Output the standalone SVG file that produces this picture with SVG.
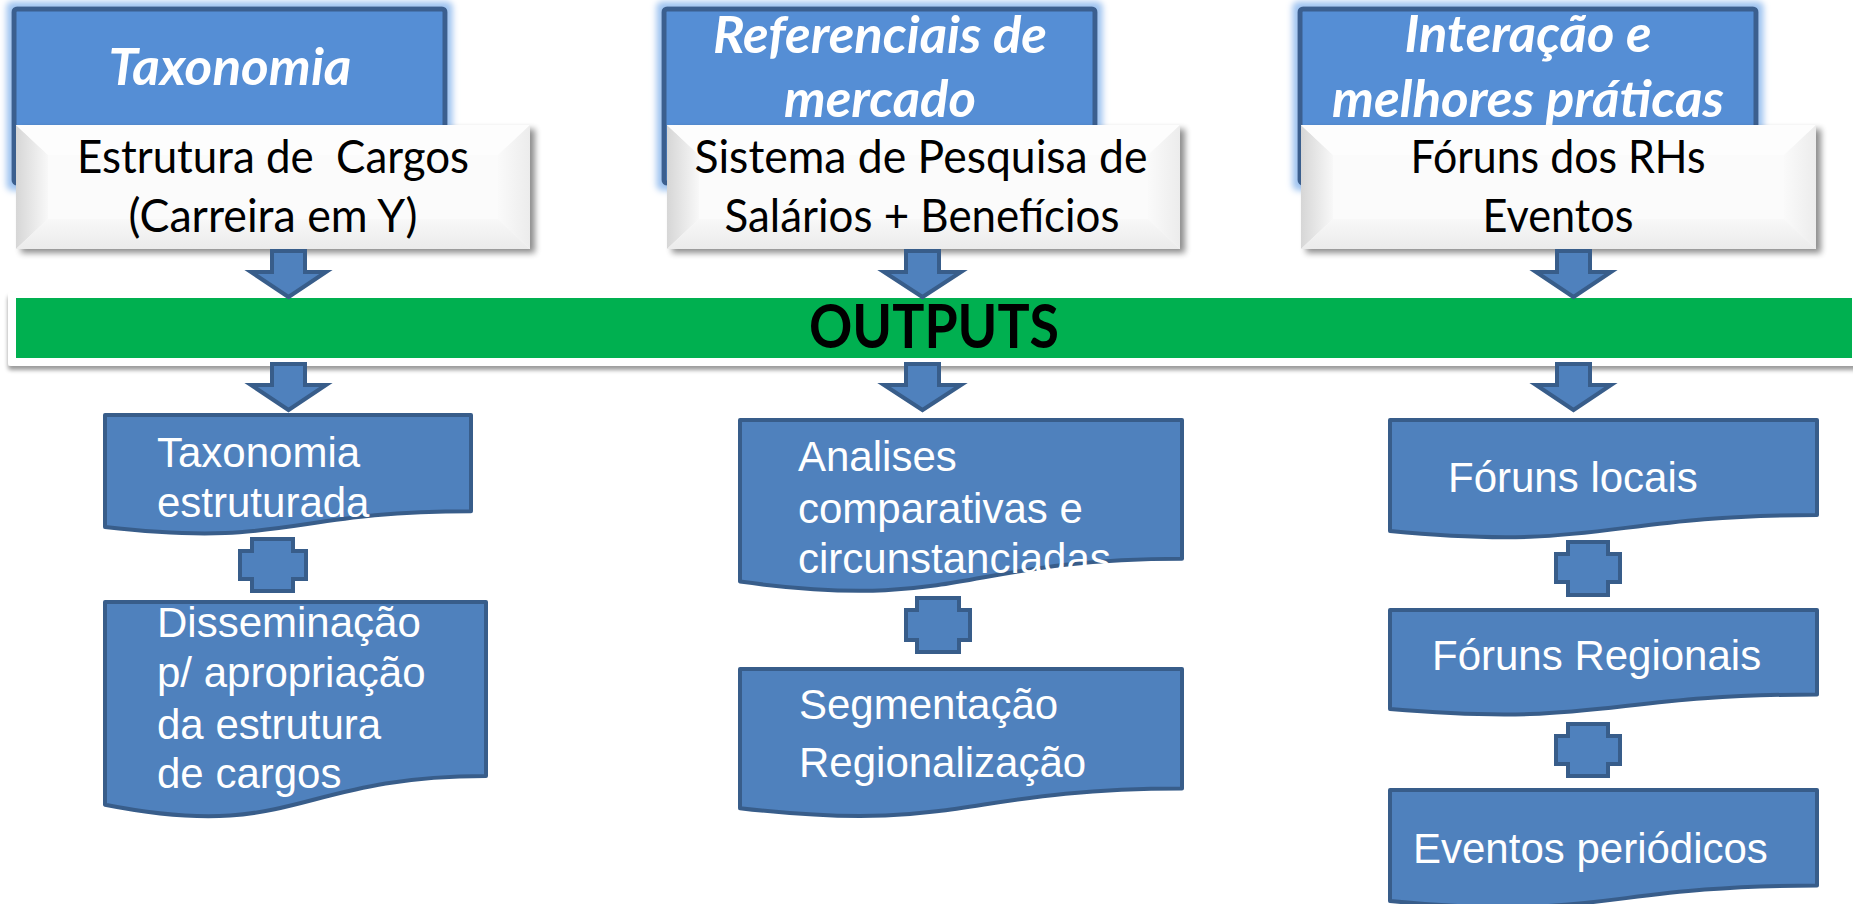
<svg xmlns="http://www.w3.org/2000/svg" width="1853" height="904" viewBox="0 0 1853 904">
<defs>
<style>
.hdr{fill:#558ED5;stroke:#3A5F8F;stroke-width:5}
.hdrt{font-family:Lato,"Open Sans",sans-serif;font-weight:bold;font-style:italic;font-size:52px;fill:#fff;text-anchor:middle}
.wt{font-family:Lato,"Open Sans",sans-serif;font-size:47px;fill:#000;text-anchor:middle}
.doc{fill:#4F81BD;stroke:#385D8A;stroke-width:4;stroke-linejoin:round}
.dt{font-family:"Liberation Sans",Arial,sans-serif;font-size:42px;fill:#fff}
.arr{fill:#4F81BD;stroke:#385D8A;stroke-width:4;stroke-linejoin:miter}
.out{font-family:Lato,"Open Sans",sans-serif;font-weight:bold;font-size:62px;fill:#000;text-anchor:middle}
</style>
<filter id="glow" x="-10%" y="-10%" width="120%" height="120%">
<feMorphology in="SourceAlpha" operator="dilate" radius="5" result="d"/>
<feGaussianBlur in="d" stdDeviation="3" result="b"/>
<feFlood flood-color="#9EC3F0"/>
<feComposite in2="b" operator="in" result="g"/>
<feMerge><feMergeNode in="g"/><feMergeNode in="SourceGraphic"/></feMerge>
</filter>
<filter id="shadow" x="-5%" y="-10%" width="115%" height="130%">
<feGaussianBlur in="SourceAlpha" stdDeviation="3"/>
<feOffset dx="5" dy="4" result="o"/>
<feComponentTransfer><feFuncA type="linear" slope="0.45"/></feComponentTransfer>
<feMerge><feMergeNode/><feMergeNode in="SourceGraphic"/></feMerge>
</filter>
<filter id="shadow2" x="-2%" y="-20%" width="104%" height="160%">
<feGaussianBlur in="SourceAlpha" stdDeviation="2"/>
<feOffset dx="0" dy="4"/>
<feComponentTransfer><feFuncA type="linear" slope="0.4"/></feComponentTransfer>
<feMerge><feMergeNode/><feMergeNode in="SourceGraphic"/></feMerge>
</filter>
<linearGradient id="lb" x1="0" y1="0" x2="1" y2="0">
<stop offset="0" stop-color="#d6d6d6"/><stop offset="1" stop-color="#f8f8f8"/>
</linearGradient>
<linearGradient id="rb" x1="0" y1="0" x2="1" y2="0">
<stop offset="0" stop-color="#fafafa"/><stop offset="1" stop-color="#ececec"/>
</linearGradient>
<linearGradient id="bb" x1="0" y1="0" x2="0" y2="1">
<stop offset="0" stop-color="#f8f8f8"/><stop offset="1" stop-color="#ebebeb"/>
</linearGradient>
</defs>
<rect width="1853" height="904" fill="#fff"/>

<g id="header-taxonomia">
<rect class="hdr" x="14" y="9" width="431" height="174" rx="3" filter="url(#glow)"/>
<text class="hdrt" x="230" y="85" textLength="243" lengthAdjust="spacingAndGlyphs">Taxonomia</text>
</g>
<g id="header-referenciais">
<rect class="hdr" x="664" y="9" width="431" height="174" rx="3" filter="url(#glow)"/>
<text class="hdrt" x="880" y="53" textLength="334" lengthAdjust="spacingAndGlyphs">Referenciais de</text>
<text class="hdrt" x="880" y="117" textLength="192" lengthAdjust="spacingAndGlyphs">mercado</text>
</g>
<g id="header-interacao">
<rect class="hdr" x="1300" y="9" width="456" height="174" rx="3" filter="url(#glow)"/>
<text class="hdrt" x="1528" y="52" textLength="247" lengthAdjust="spacingAndGlyphs">Interação e</text>
<text class="hdrt" x="1528" y="117" textLength="392" lengthAdjust="spacingAndGlyphs">melhores práticas</text>
</g>

<g id="box-estrutura">
<g filter="url(#shadow)">
<rect x="16" y="125" width="514" height="124" fill="#fafafa"/>
</g>
<polygon points="16,125 48,155 48,219 16,249" fill="url(#lb)"/>
<polygon points="16,125 530,125 498,155 48,155" fill="#fdfdfd"/>
<polygon points="530,125 530,249 498,219 498,155" fill="url(#rb)"/>
<polygon points="16,249 48,219 498,219 530,249" fill="url(#bb)"/>
<rect x="48" y="155" width="450" height="64" fill="#fbfbfb"/>
<text class="wt" x="273" y="173" textLength="392" lengthAdjust="spacingAndGlyphs" xml:space="preserve">Estrutura de  Cargos</text>
<text class="wt" x="273" y="232" textLength="289" lengthAdjust="spacingAndGlyphs">(Carreira em Y)</text>
</g>
<g id="box-sistema">
<g filter="url(#shadow)">
<rect x="667" y="125" width="513" height="124" fill="#fafafa"/>
</g>
<polygon points="667,125 699,155 699,219 667,249" fill="url(#lb)"/>
<polygon points="667,125 1180,125 1148,155 699,155" fill="#fdfdfd"/>
<polygon points="1180,125 1180,249 1148,219 1148,155" fill="url(#rb)"/>
<polygon points="667,249 699,219 1148,219 1180,249" fill="url(#bb)"/>
<rect x="699" y="155" width="449" height="64" fill="#fbfbfb"/>
<text class="wt" x="921" y="173" textLength="453" lengthAdjust="spacingAndGlyphs">Sistema de Pesquisa de</text>
<text class="wt" x="922" y="232" textLength="395" lengthAdjust="spacingAndGlyphs">Salários + Benefícios</text>
</g>
<g id="box-foruns-rh">
<g filter="url(#shadow)">
<rect x="1301" y="125" width="515" height="124" fill="#fafafa"/>
</g>
<polygon points="1301,125 1333,155 1333,219 1301,249" fill="url(#lb)"/>
<polygon points="1301,125 1816,125 1784,155 1333,155" fill="#fdfdfd"/>
<polygon points="1816,125 1816,249 1784,219 1784,155" fill="url(#rb)"/>
<polygon points="1301,249 1333,219 1784,219 1816,249" fill="url(#bb)"/>
<rect x="1333" y="155" width="451" height="64" fill="#fbfbfb"/>
<text class="wt" x="1558" y="173" textLength="295" lengthAdjust="spacingAndGlyphs">Fóruns dos RHs</text>
<text class="wt" x="1558" y="232" textLength="151" lengthAdjust="spacingAndGlyphs">Eventos</text>
</g>

<g id="outputs">
<rect x="8" y="292" width="1860" height="74" rx="3" fill="#fff" filter="url(#shadow2)"/>
<rect x="16" y="298" width="1836" height="60" fill="#00B050"/>
<text class="out" x="934" y="348" textLength="250" lengthAdjust="spacingAndGlyphs">OUTPUTS</text>
</g>

<g id="box-taxonomia-estruturada">
<path class="doc" d="M105,415 H471 V511.2 C288,511.2 288,547.9 105,527 Z"/>
<text class="dt" x="157" y="467">Taxonomia</text>
<text class="dt" x="157" y="517">estruturada</text>
</g>
<g id="box-disseminacao">
<path class="doc" d="M105,602 H486 V776 C295.5,776 295.5,842.3 105,804.7 Z"/>
<text class="dt" x="157" y="637">Disseminação</text>
<text class="dt" x="157" y="687">p/ apropriação</text>
<text class="dt" x="157" y="739">da estrutura</text>
<text class="dt" x="157" y="788">de cargos</text>
</g>
<g id="box-analises">
<path class="doc" d="M740,420 H1182 V558.7 C961,558.7 961,611.6 740,581.6 Z"/>
<text class="dt" x="798" y="471">Analises</text>
<text class="dt" x="798" y="523">comparativas e</text>
<text class="dt" x="798" y="573">circunstanciadas</text>
</g>
<g id="box-segmentacao">
<path class="doc" d="M740,669 H1182 V788.5 C961,788.5 961,834 740,808.2 Z"/>
<text class="dt" x="799" y="719">Segmentação</text>
<text class="dt" x="799" y="777">Regionalização</text>
</g>
<g id="box-foruns-locais">
<path class="doc" d="M1390,420 H1817 V515 C1603.5,515 1603.5,551.5 1390,531 Z"/>
<text class="dt" x="1448" y="492">Fóruns locais</text>
</g>
<g id="box-foruns-regionais">
<path class="doc" d="M1390,610 H1817 V694.5 C1603.5,694.5 1603.5,727 1390,709 Z"/>
<text class="dt" x="1432" y="670">Fóruns Regionais</text>
</g>
<g id="box-eventos-periodicos">
<path class="doc" d="M1390,790 H1817 V885.5 C1603.5,885.5 1603.5,921.5 1390,901 Z"/>
<text class="dt" x="1413" y="863">Eventos periódicos</text>
</g>

<g id="connectors">
<polygon class="arr" points="272,251 305,251 305,272 326,272 288.5,297 251,272 272,272"/>
<polygon class="arr" points="906,251 939,251 939,272 961,272 922.5,297 884,272 906,272"/>
<polygon class="arr" points="1557,251 1590,251 1590,272 1611,272 1573.5,297 1536,272 1557,272"/>
<polygon class="arr" points="272,364 305,364 305,385 326,385 288.5,410 251,385 272,385"/>
<polygon class="arr" points="906,364 939,364 939,385 961,385 922.5,410 884,385 906,385"/>
<polygon class="arr" points="1557,364 1590,364 1590,385 1611,385 1573.5,410 1536,385 1557,385"/>
<path class="arr" d="M252,539 H293 V551 H306 V579 H293 V591 H252 V579 H240 V551 H252 Z"/>
<path class="arr" d="M917,598 H959 V610 H970 V640 H959 V652 H917 V640 H906 V610 H917 Z"/>
<path class="arr" d="M1568,542 H1608 V554 H1620 V582 H1608 V595 H1568 V582 H1556 V554 H1568 Z"/>
<path class="arr" d="M1568,724 H1608 V736 H1620 V764 H1608 V776 H1568 V764 H1556 V736 H1568 Z"/>
</g>
</svg>
